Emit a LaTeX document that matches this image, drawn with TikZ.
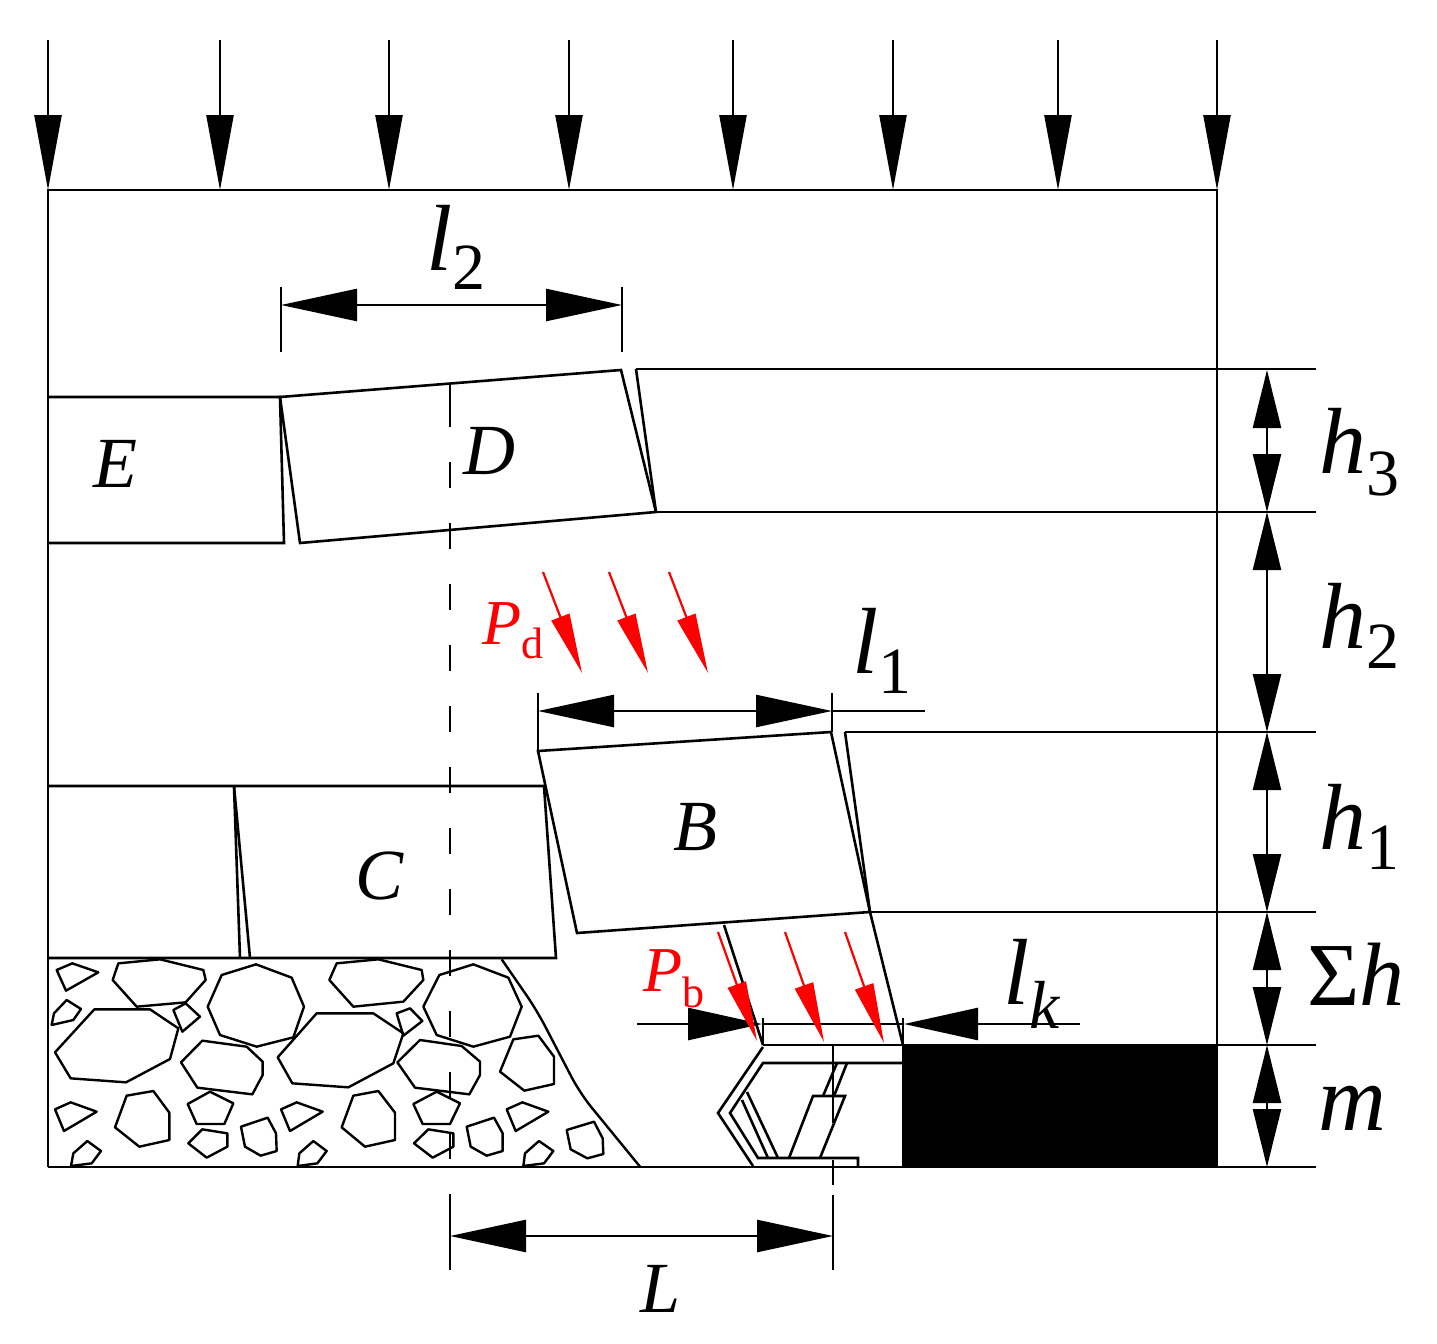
\documentclass[tikz,border=0pt]{standalone}
\usepackage{fontspec}
\setmainfont{Liberation Serif}
\usetikzlibrary{arrows.meta}
\newcommand{\fsz}[1]{\fontsize{#1pt}{#1pt}\selectfont}
\newcommand{\symsub}[5]{{\fsz{#3}\itshape #1}\raisebox{-#5pt}{\fsz{#4}#2}}
\tikzset{
  ln/.style={line width=1.3pt,line cap=butt,line join=miter},
  rock/.style={line width=1.2pt,line join=round},
  load/.style={line width=1.25pt,-{Triangle[length=37.5pt,width=13.5pt]}},
  dimh/.style={line width=1.25pt,{Triangle[length=38pt,width=16pt]}-{Triangle[length=38pt,width=16pt]}},
  tiph/.style={line width=1.25pt,-{Triangle[length=37pt,width=16pt]}},
  dimv/.style={line width=1.25pt,{Triangle[length=29pt,width=14pt]}-{Triangle[length=29pt,width=14pt]}},
  redarr/.style={red,line width=1.1pt,-{Triangle[length=30pt,width=9.5pt]}},
  center dash/.style={ln,dash pattern=on 13pt off 17.5pt},
  lab/.style={inner sep=0pt,outer sep=0pt,anchor=base west},
}
\begin{document}
\begin{tikzpicture}[x=0.5pt,y=-0.5pt]
\useasboundingbox (0,0) rectangle (1437,1344);
% top loads
\foreach \i/\xx in {a/48,b/220,c/389,d/569,e/733,f/893,g/1058,h/1217}{
  \coordinate (t\i) at (\xx,40); \coordinate (u\i) at (\xx,190);
  \draw[load] (t\i) -- (u\i);
}
% frame
\draw[ln] (48,1167) -- (48,190) -- (1217,190) -- (1217,1045);
\draw[ln] (48,1167) -- (1316,1167);
% coal
\fill[black] (902,1045) rectangle (1218,1167);
% strata
\draw[ln] (636,369) -- (1316,369);
\draw[ln] (656,512) -- (1316,512);
\draw[ln] (845,732) -- (1316,732);
\draw[ln] (870,912) -- (1316,912);
\draw[ln] (763,1045) -- (1316,1045);
% block E, D
\draw[ln] (48,397) -- (280,397) -- (284,543) -- (48,543);
\draw[ln] (280,397) -- (621,370) -- (656,512) -- (300,543) -- cycle;
\draw[ln] (636,369) -- (656,512);
% block C row
\draw[ln] (48,786) -- (544,786) -- (556,958) -- (48,958);
\draw[ln] (234,786) -- (240,958);
\draw[ln] (234,786) -- (250,958);
% block B
\draw[ln] (538,751) -- (831,732) -- (870,912) -- (577,933) -- cycle;
\draw[ln] (845,732) -- (870,912) -- (903,1045);
\draw[ln] (724,925) -- (763,1045);
% centre lines
\draw[ln] (450,383) -- (450,427);
\draw[center dash] (450,462) -- (450,1160);
\draw[ln] (450,1194) -- (450,1270);
\draw[ln] (833,1044) -- (833,1123);
\draw[ln] (833,1160) -- (833,1185);
\draw[ln] (833,1195) -- (833,1270);
% rocks (zoom coordinates)
\begin{scope}[shift={(40,950)},x=0.16667pt,y=-0.16667pt]
\draw[rock] (50,60)--(97,40)--(175,67)--(78,122)--cycle;
\draw[rock] (235,40)--(360,28)--(490,60)--(497,90)--(437,157)--(290,170)--(218,90)--cycle;
\draw[rock] (80,150)--(123,177)--(100,210)--(35,225)--(42,190)--cycle;
\draw[rock] (163,178)--(330,178)--(415,235)--(390,327)--(258,397)--(92,385)--(45,307)--cycle;
\draw[rock] (400,180)--(437,160)--(480,200)--(427,245)--cycle;
\draw[rock] (545,75)--(648,43)--(755,83)--(792,170)--(760,262)--(650,290)--(540,255)--(503,170)--cycle;
\draw[rock] (487,272)--(620,290)--(668,335)--(668,375)--(637,433)--(472,413)--(423,337)--cycle;
\draw[rock] (830,190)--(1000,190)--(1090,250)--(1060,340)--(925,412)--(757,400)--(713,322)--cycle;
\draw[rock] (868,90)--(890,40)--(1015,28)--(1145,60)--(1150,90)--(1090,155)--(940,170)--cycle;
\draw[rock] (1070,190)--(1110,175)--(1147,213)--(1090,257)--cycle;
\draw[rock] (1198,75)--(1300,43)--(1405,83)--(1445,170)--(1410,260)--(1300,290)--(1190,255)--(1150,170)--cycle;
\draw[rock] (1140,270)--(1265,288)--(1320,335)--(1320,375)--(1288,433)--(1125,413)--(1072,337)--cycle;
\draw[rock] (1420,268)--(1495,257)--(1542,320)--(1542,402)--(1453,422)--(1380,365)--cycle;
\draw[rock] (45,478)--(92,457)--(170,485)--(72,543)--cycle;
\draw[rock] (260,437)--(340,423)--(388,488)--(388,570)--(298,590)--(225,532)--cycle;
\draw[rock] (443,462)--(510,425)--(580,460)--(553,522)--(470,522)--cycle;
\draw[rock] (487,538)--(562,550)--(562,590)--(500,623)--(445,580)--cycle;
\draw[rock] (603,530)--(683,503)--(708,550)--(710,603)--(662,617)--(615,590)--cycle;
\draw[rock] (723,478)--(770,457)--(848,485)--(750,543)--cycle;
\draw[rock] (773,648)--(778,610)--(820,573)--(860,603)--(832,640)--cycle;
\draw[rock] (93,648)--(100,610)--(142,573)--(183,603)--(155,640)--cycle;
\draw[rock] (940,437)--(1015,423)--(1065,488)--(1065,570)--(975,590)--(905,532)--cycle;
\draw[rock] (1120,462)--(1190,425)--(1260,460)--(1230,522)--(1148,522)--cycle;
\draw[rock] (1122,580)--(1165,538)--(1240,550)--(1240,590)--(1178,623)--cycle;
\draw[rock] (1280,530)--(1362,503)--(1388,550)--(1388,603)--(1340,617)--(1292,590)--cycle;
\draw[rock] (1400,478)--(1447,457)--(1525,485)--(1427,543)--cycle;
\draw[rock] (1450,648)--(1455,610)--(1497,573)--(1540,603)--(1512,640)--cycle;
\draw[rock] (1580,540)--(1662,515)--(1688,565)--(1690,612)--(1642,625)--(1592,598)--cycle;
% caving line
\draw[rock,rounded corners=9pt] (1385,28)--(1490,180)--(1620,430)--(1800,650);
\end{scope}
% support
\draw[ln] (763,1047) -- (718,1113) -- (753,1166);
\draw[ln] (902,1063) -- (763,1063) -- (730,1113) -- (758,1158) -- (858,1158) -- (858,1166);
\draw[ln] (742,1100) -- (768,1158);
\draw[ln] (747,1092) -- (778,1158);
\draw[ln] (837,1063) -- (823,1096);
\draw[ln] (847,1063) -- (834,1096);
\draw[ln] (789,1158) -- (813,1096) -- (845,1096) -- (820,1158);
% dimensions
\draw[ln] (281,287) -- (281,352);
\draw[ln] (622,287) -- (622,352);
\coordinate (l2a) at (281,305); \coordinate (l2b) at (622,305);
\draw[dimh] (l2a) -- (l2b);
\draw[ln] (538,693) -- (538,751);
\draw[ln] (832,693) -- (832,732);
\coordinate (l1a) at (538,711); \coordinate (l1b) at (832,711); \coordinate (l1c) at (925,711);
\draw[dimh] (l1a) -- (l1b);
\draw[ln] (l1b) -- (l1c);
\draw[ln] (763,1018) -- (763,1045);
\draw[ln] (903,1018) -- (903,1045);
\coordinate (ka) at (637,1024); \coordinate (kb) at (762,1024); \coordinate (kc) at (904,1024); \coordinate (kd) at (1080,1024);
\draw[tiph] (ka) -- (kb);
\draw[tiph] (kd) -- (kc);
\draw[ln] (kb) -- (kc);
\coordinate (La) at (450,1236); \coordinate (Lb) at (833,1236);
\draw[dimh] (La) -- (Lb);
\foreach \n/\ya/\yb in {hc/370/512,hb/512/732,ha/732/912,hs/912/1045,hm/1045/1167}{
  \coordinate (\n a) at (1267,\ya); \coordinate (\n b) at (1267,\yb);
  \draw[dimv] (\n a) -- (\n b);
}
% red arrows
\foreach \n/\xa/\ya/\xb/\yb in {pa/543/572/582/673,pb/609/572/648/673,pc/669/572/708/673,qa/718/932/757/1041,qb/785/932/824/1042,qc/845/932/884/1043}{
  \coordinate (\n s) at (\xa,\ya); \coordinate (\n e) at (\xb,\yb);
  \draw[redarr] (\n s) -- (\n e);
}
% labels
\node[lab] (lE) at (93,487) {\fsz{36}\itshape E};
\node[lab] (lD) at (463,474) {\fsz{36}\itshape D};
\node[lab] (lC) at (355,899) {\fsz{36}\itshape C};
\node[lab] (lB) at (673,850) {\fsz{36}\itshape B};
\node[lab] (lL) at (640,1312) {\fsz{36}\itshape L};
\node[lab] (ll2) at (426,270) {\symsub{l}{2}{47}{33}{9.5}};
\node[lab] (ll1) at (852,673) {\symsub{l}{1}{47}{33}{10}};
\node[lab] (llk) at (1003,1004) {\symsub{l}{\itshape k}{47}{34}{12}};
\node[lab] (lh3) at (1319,473) {\symsub{h}{3}{47}{33}{11}};
\node[lab] (lh2) at (1319,648) {\symsub{h}{2}{47}{33}{10}};
\node[lab] (lh1) at (1319,849) {\symsub{h}{1}{47}{33}{10}};
\node[lab] (lsh) at (1307,1005) {\fsz{45}Σ\itshape h};
\node[lab] (lm) at (1318,1130) {\fsz{47}\itshape m};
\node[lab,text=red] (lPd) at (482,644) {\symsub{P}{d}{32}{22}{7}};
\node[lab,text=red] (lPb) at (643,991) {\symsub{P}{b}{32}{22}{8}};
\end{tikzpicture}
\end{document}
